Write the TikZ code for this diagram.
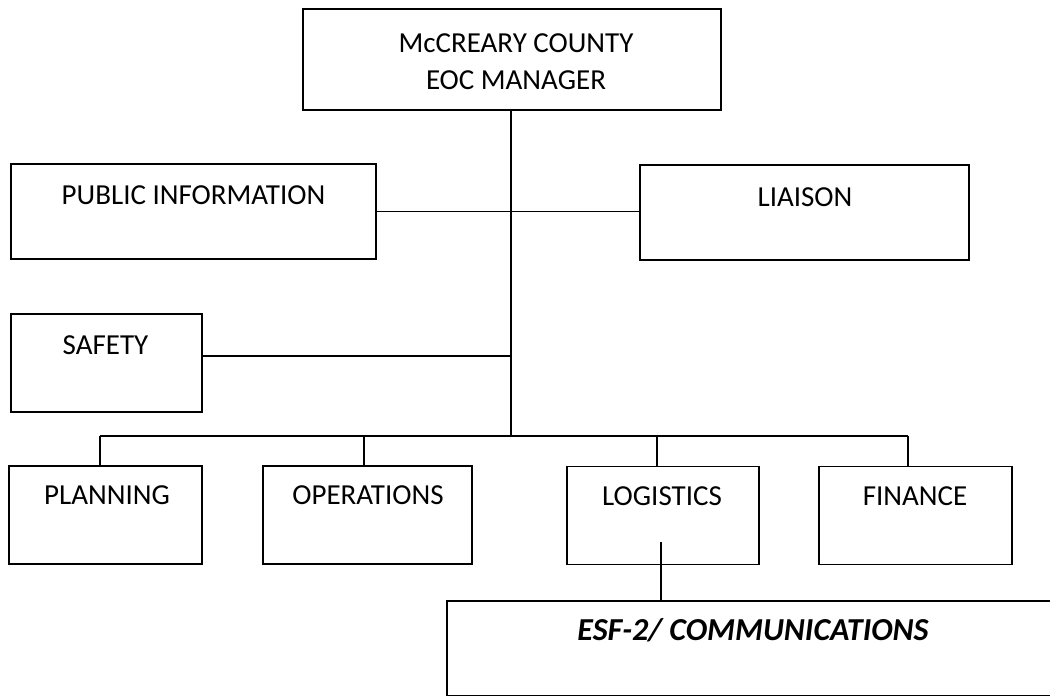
\documentclass[tikz,border=0pt]{standalone}
\usepackage{fontspec}
\setmainfont{Carlito}
\begin{document}
\begin{tikzpicture}[x=1pt,y=-1pt,
  box/.style={draw, line width=1.4pt, inner sep=0pt},
  lbl/.style={font=\fontsize{29}{34}\selectfont, inner sep=0pt, anchor=base},
  conn/.style={line width=1.2pt}]
\useasboundingbox[fill=white] (0,0) rectangle (1050,696);
% boxes
\node[box, minimum width=418pt, minimum height=101pt] (top) at (512,59.5) {};
\node[box, minimum width=365pt, minimum height=95pt] (pi) at (193.5,211.5) {};
\node[box, minimum width=329pt, minimum height=95pt] (li) at (804.5,212.5) {};
\node[box, minimum width=191pt, minimum height=98pt] (sf) at (106.5,363) {};
\node[box, minimum width=193pt, minimum height=98pt] (pl) at (105.5,515) {};
\node[box, minimum width=209pt, minimum height=98pt] (op) at (367.5,515) {};
\node[box, minimum width=192pt, minimum height=98pt] (lg) at (663,515.5) {};
\node[box, minimum width=193pt, minimum height=98pt] (fi) at (915.5,515.5) {};
\node[box, minimum width=608pt, minimum height=95pt] (esf) at (751,648.5) {};
% labels
\node[lbl] (topa) at (516,52) {McCREARY COUNTY};
\node[lbl] (topb) at (516,89) {EOC MANAGER};
\node[lbl] (pit) at (193.5,204) {PUBLIC INFORMATION};
\node[lbl] (lit) at (805,206) {LIAISON};
\node[lbl] (sft) at (105.5,354) {SAFETY};
\node[lbl] (plt) at (107,504) {PLANNING};
\node[lbl] (opt) at (368,504) {OPERATIONS};
\node[lbl] (lgt) at (662,505) {LOGISTICS};
\node[lbl] (fit) at (915,505) {FINANCE};
\node[lbl, font=\fontsize{32}{38}\selectfont\bfseries\itshape] (esft) at (753,640) {ESF-2/ COMMUNICATIONS};
% connectors
\coordinate (bus) at (511,436);
\coordinate (busL) at (100,436);
\coordinate (busR) at (908,436);
\coordinate (dop) at (364,436);
\coordinate (dlg) at (657,436);
\coordinate (sa) at (511,356);
\coordinate (lgi) at (661,542);
\draw[conn] (top.south -| bus) -- (bus);
\draw[conn] (pi.east) -- (pi.east -| li.west);
\draw[conn] (sa -| sf.east) -- (sa);
\draw[conn] (busL) -- (busR);
\draw[conn] (busL) -- (busL |- pl.north);
\draw[conn] (dop) -- (dop |- op.north);
\draw[conn] (dlg) -- (dlg |- lg.north);
\draw[conn] (busR) -- (busR |- fi.north);
\draw[conn] (lgi) -- (lgi |- esf.north);
\end{tikzpicture}
\end{document}
